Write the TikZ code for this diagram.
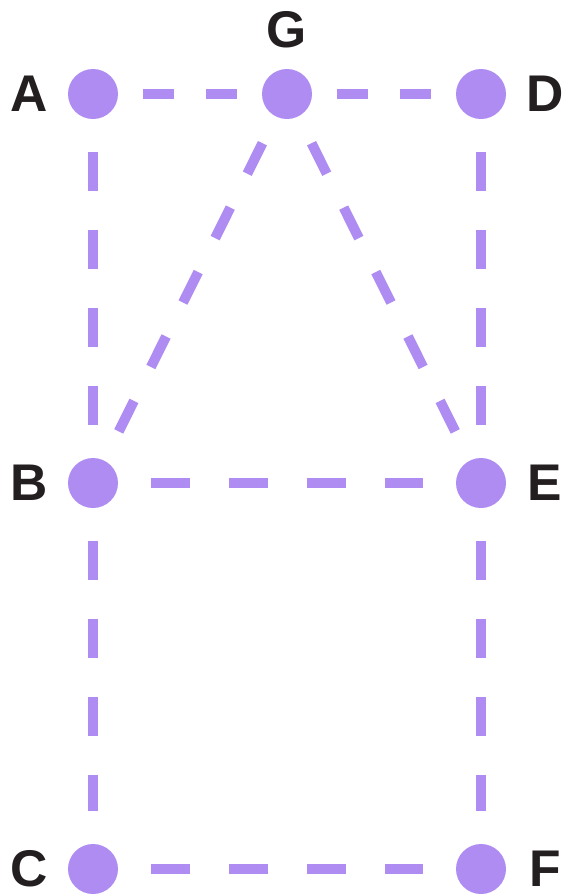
\documentclass[tikz,border=0pt]{standalone}
\usepackage{fontspec}
\setmainfont{Liberation Sans}
\usepackage{xcolor}
\usepackage{tikz}
\definecolor{nodepurple}{HTML}{AE8CF2}
\definecolor{labelblack}{HTML}{231F20}

\begin{document}
\begin{tikzpicture}[
x=0.5pt, y=-0.5pt,
% Style for the vertices
vertex/.style={
circle,
fill=nodepurple,
inner sep=0pt,
minimum size=25pt
},
% Style for the letters next to the vertices
vlabel/.style={
text=labelblack,
font=\fontsize{25.8}{30}\selectfont\bfseries
},
% Dashed connectors (long, short and slanted)
link/.style={
nodepurple,
line width=5pt,
dash pattern=on 19.5pt off 19.5pt,
shorten <=29pt, shorten >=29pt
},
shortlink/.style={
link,
dash pattern=on 15.5pt off 16pt,
shorten <=25pt, shorten >=25pt
},
slantlink/.style={
link,
dash pattern=on 17pt off 19pt,
shorten <=27.5pt, shorten >=27.5pt
}
]
\useasboundingbox (0,0) rectangle (563,896);

% Vertices
\node[vertex] (A) at (93,94) {};
\node[vertex] (G) at (287,94) {};
\node[vertex] (D) at (481,94) {};
\node[vertex] (B) at (93,483) {};
\node[vertex] (E) at (481,483) {};
\node[vertex] (C) at (93,869) {};
\node[vertex] (F) at (481,869) {};

% Letters
\node[vlabel] (lA) at (29,94) {A};
\node[vlabel] (lG) at (287,30) {G};
\node[vlabel] (lD) at (545,94) {D};
\node[vlabel] (lB) at (29,483) {B};
\node[vlabel] (lE) at (545,483) {E};
\node[vlabel] (lC) at (29,869) {C};
\node[vlabel] (lF) at (545,869) {F};

% Top row
\draw[shortlink] (A.center) -- (G.center);
\draw[shortlink] (G.center) -- (D.center);

% Triangle from G
\draw[slantlink] (G.center) -- (B.center);
\draw[slantlink] (G.center) -- (E.center);

% Outer frame
\draw[link] (A.center) -- (B.center);
\draw[link] (D.center) -- (E.center);
\draw[link] (B.center) -- (E.center);
\draw[link] (B.center) -- (C.center);
\draw[link] (E.center) -- (F.center);
\draw[link] (C.center) -- (F.center);

\end{tikzpicture}
\end{document}
